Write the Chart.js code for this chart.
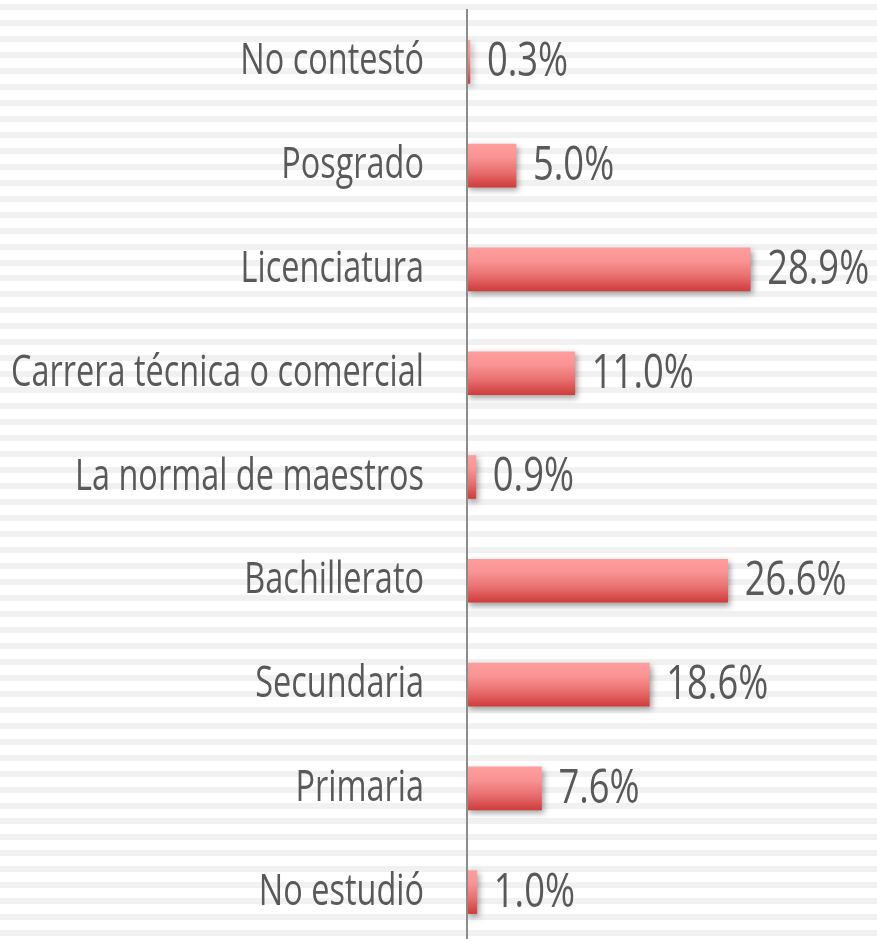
<!DOCTYPE html>
<html>
<head>
<meta charset="utf-8">
<script src="https://cdn.jsdelivr.net/npm/chart.js@4/dist/chart.umd.min.js"></script>
<style>
  html, body { margin: 0; padding: 0; background: #fff; overflow: hidden; }
  #wrap { width: 877px; height: 939px; overflow: hidden; }
  canvas { display: block; }
</style>
</head>
<body>
<div id="wrap"><canvas id="chart" width="877" height="944"></canvas></div>
<script>
// Nivel de estudios (porcentaje de respuestas), de arriba hacia abajo
const categories = [
  'No contestó',
  'Posgrado',
  'Licenciatura',
  'Carrera técnica o comercial',
  'La normal de maestros',
  'Bachillerato',
  'Secundaria',
  'Primaria',
  'No estudió'
];
const shares = [0.3, 5.0, 28.9, 11.0, 0.9, 26.6, 18.6, 7.6, 1.0];

const FONT = '"Open Sans", "Noto Sans", sans-serif';
const TEXT_COLOR = '#595959';
const LABEL_SIZE = 44;
const VALUE_SIZE = 47;
const BAR_THICKNESS = 43;

// condensed look: squeeze text horizontally by a measured factor
function squeezeFactor(sample, size, targetWidth) {
  const c = document.createElement('canvas').getContext('2d');
  c.font = size + 'px ' + FONT;
  return targetWidth / c.measureText(sample).width;
}
const labelSqueeze = squeezeFactor('Carrera técnica o comercial', LABEL_SIZE, 413);
const valueSqueeze = squeezeFactor('28.9%', VALUE_SIZE, 102);

// light horizontal pinstripes behind everything
const stripes = {
  id: 'stripes',
  beforeDraw(chart) {
    const { ctx, width, height } = chart;
    ctx.save();
    ctx.fillStyle = '#ffffff';
    ctx.fillRect(0, 0, width, height);
    ctx.fillStyle = '#f1f1f1';
    for (let y = 4; y < height; y += 15.97) {
      ctx.fillRect(0, Math.round(y), width, 6);
    }
    ctx.restore();
  }
};

// soft drop shadow under the bars
const barShadow = {
  id: 'barShadow',
  beforeDatasetDraw(chart) {
    const ctx = chart.ctx;
    ctx.save();
    ctx.shadowColor = 'rgba(0,0,0,0.38)';
    ctx.shadowBlur = 6;
    ctx.shadowOffsetX = 2;
    ctx.shadowOffsetY = 3;
  },
  afterDatasetDraw(chart) {
    chart.ctx.restore();
  }
};

// condensed category labels on the y axis
const condensedTicks = {
  id: 'condensedTicks',
  beforeDraw(chart) {
    const ys = chart.scales.y;
    if (!ys || ys._condensed) return;
    const orig = ys.drawLabels;
    ys._computeLabelArea = () => undefined;
    ys.drawLabels = function (area) {
      const c = this.ctx;
      const ax = this.right - this.options.ticks.padding;
      c.save();
      c.translate(ax, 0);
      c.scale(labelSqueeze, 1);
      c.translate(-ax, 0);
      orig.call(this, area);
      c.restore();
    };
    ys._condensed = true;
  }
};

// percentage printed after each bar
const valueLabels = {
  id: 'valueLabels',
  afterDatasetsDraw(chart) {
    const ctx = chart.ctx;
    const meta = chart.getDatasetMeta(0);
    ctx.save();
    ctx.font = VALUE_SIZE + 'px ' + FONT;
    ctx.fillStyle = TEXT_COLOR;
    ctx.textAlign = 'left';
    ctx.textBaseline = 'middle';
    meta.data.forEach((bar, i) => {
      ctx.save();
      ctx.translate(bar.x + 17, bar.y + 1);
      ctx.scale(valueSqueeze, 1);
      ctx.fillText(shares[i].toFixed(1) + '%', 0, 0);
      ctx.restore();
    });
    ctx.restore();
  }
};

function barGradient(context) {
  const chart = context.chart;
  const ys = chart.scales && chart.scales.y;
  if (!ys || context.type !== 'data') return '#e46a6a';
  const yc = ys.getPixelForValue(context.dataIndex);
  if (!Number.isFinite(yc)) return '#e46a6a';
  const half = BAR_THICKNESS / 2;
  const g = chart.ctx.createLinearGradient(0, yc - half, 0, yc + half);
  g.addColorStop(0, '#ff9d9d');
  g.addColorStop(0.3, '#fa9494');
  g.addColorStop(0.65, '#e86f6f');
  g.addColorStop(1, '#cf3d3b');
  return g;
}

new Chart(document.getElementById('chart'), {
  type: 'bar',
  data: {
    labels: categories,
    datasets: [{
      data: shares,
      barThickness: BAR_THICKNESS,
      backgroundColor: barGradient,
      borderWidth: 0
    }]
  },
  options: {
    indexAxis: 'y',
    responsive: false,
    animation: false,
    events: [],
    layout: { padding: { top: 10, right: 18, bottom: 0, left: 0 } },
    plugins: {
      legend: { display: false },
      tooltip: { enabled: false }
    },
    scales: {
      x: { display: false, min: 0, max: 40 },
      y: {
        grid: { display: false, drawTicks: false },
        border: { display: true, color: '#8c8c8c', width: 2, z: 1 },
        ticks: {
          autoSkip: false,
          padding: 43,
          color: TEXT_COLOR,
          font: { family: FONT, size: LABEL_SIZE }
        },
        afterFit(scale) {
          scale.width = 467;
          scale.paddingTop = 0;
          scale.paddingBottom = 0;
        }
      }
    }
  },
  plugins: [stripes, barShadow, condensedTicks, valueLabels]
});
</script>
</body>
</html>
